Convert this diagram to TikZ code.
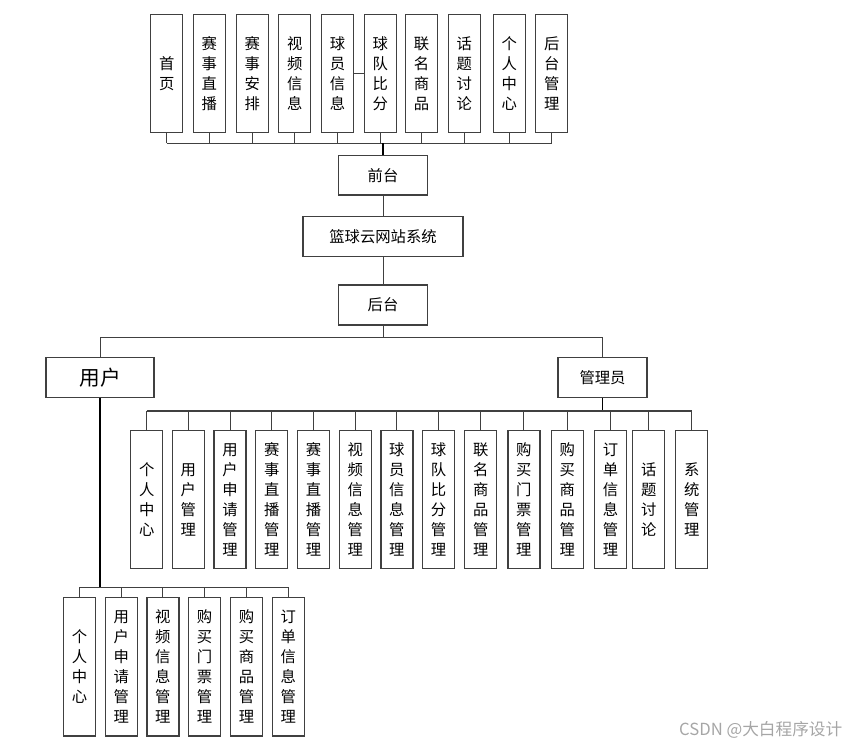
\documentclass[tikz,border=0pt]{standalone}
\usepackage{fontspec}
\setmainfont{Noto Sans CJK SC}
\usepackage{tikz}

\begin{document}
\begin{tikzpicture}[
  x=0.75pt, y=-0.75pt,
  box/.style={draw=black!75,line width=0.9pt,inner sep=0pt,align=center,font=\fontsize{11.5}{15}\selectfont},
  tbox/.style={box,minimum width=24pt,minimum height=89pt},
  abox/.style={box,minimum width=24pt,minimum height=103pt},
  ubox/.style={box,minimum width=24pt,minimum height=104pt},
  link/.style={draw=black!75,line width=0.75pt},
  blink/.style={draw=black,line width=1.4pt}
]
  \useasboundingbox (0,0) rectangle (852,745);
  % front end
  \node[tbox] (t1) at (166.7,73.5) {首\\页};
  \node[tbox] (t2) at (209.3,73.5) {赛\\事\\直\\播};
  \node[tbox] (t3) at (252.2,73.5) {赛\\事\\安\\排};
  \node[tbox] (t4) at (294.8,73.5) {视\\频\\信\\息};
  \node[tbox] (t5) at (337.5,73.5) {球\\员\\信\\息};
  \node[tbox] (t6) at (380.3,73.5) {球\\队\\比\\分};
  \node[tbox] (t7) at (421.5,73.5) {联\\名\\商\\品};
  \node[tbox] (t8) at (464.2,73.5) {话\\题\\讨\\论};
  \node[tbox] (t9) at (509.2,73.5) {个\\人\\中\\心};
  \node[tbox] (t10) at (551.8,73.5) {后\\台\\管\\理};
  \node[box,minimum width=66.5pt,minimum height=29.5pt] (qt) at (383,175.3) {前台};
  \node[box,minimum width=120pt,minimum height=30pt] (sys) at (383,236.7) {篮球云网站系统};
  \node[box,minimum width=66.8pt,minimum height=30pt] (ht) at (383,305) {后台};
  \node[box,minimum width=81pt,minimum height=29.7pt,font=\fontsize{15.5}{18}\selectfont] (user) at (100,377.5) {用户};
  \node[box,minimum width=66.8pt,minimum height=29.7pt] (admin) at (602.5,377.5) {管理员};
  % admin
  \node[abox] (a1) at (146.8,499.5) {个\\人\\中\\心};
  \node[abox] (a2) at (188.3,499.5) {用\\户\\管\\理};
  \node[abox] (a3) at (230,499.5) {用\\户\\申\\请\\管\\理};
  \node[abox] (a4) at (271.8,499.5) {赛\\事\\直\\播\\管\\理};
  \node[abox] (a5) at (313.5,499.5) {赛\\事\\直\\播\\管\\理};
  \node[abox] (a6) at (355.2,499.5) {视\\频\\信\\息\\管\\理};
  \node[abox] (a7) at (396.9,499.5) {球\\员\\信\\息\\管\\理};
  \node[abox] (a8) at (438.6,499.5) {球\\队\\比\\分\\管\\理};
  \node[abox] (a9) at (480.7,499.5) {联\\名\\商\\品\\管\\理};
  \node[abox] (a10) at (523.9,499.5) {购\\买\\门\\票\\管\\理};
  \node[abox] (a11) at (567.2,499.5) {购\\买\\商\\品\\管\\理};
  \node[abox] (a12) at (610.5,499.5) {订\\单\\信\\息\\管\\理};
  \node[abox] (a13) at (648.7,499.5) {话\\题\\讨\\论};
  \node[abox] (a14) at (691.8,499.5) {系\\统\\管\\理};
  % user
  \node[ubox] (u1) at (79.5,666.7) {个\\人\\中\\心};
  \node[ubox] (u2) at (121.2,666.7) {用\\户\\申\\请\\管\\理};
  \node[ubox] (u3) at (162.9,666.7) {视\\频\\信\\息\\管\\理};
  \node[ubox] (u4) at (204.5,666.7) {购\\买\\门\\票\\管\\理};
  \node[ubox] (u5) at (246.5,666.7) {购\\买\\商\\品\\管\\理};
  \node[ubox] (u6) at (288.2,666.7) {订\\单\\信\\息\\管\\理};
  \node[text=black!35,font=\fontsize{12.5}{14}\selectfont,anchor=east] (mark) at (847,730) {CSDN @大白程序设计};
  \coordinate (fbus) at (383,143.3);
  \coordinate (hbus) at (383,337.7);
  \coordinate (abus) at (602.5,411);
  \coordinate (ubus) at (100,587.3);
  % front end links
  \draw[link] (t1.south) -- (t1.south |- fbus);
  \draw[link] (t2.south) -- (t2.south |- fbus);
  \draw[link] (t3.south) -- (t3.south |- fbus);
  \draw[link] (t4.south) -- (t4.south |- fbus);
  \draw[link] (t5.south) -- (t5.south |- fbus);
  \draw[link] (t6.south) -- (t6.south |- fbus);
  \draw[link] (t7.south) -- (t7.south |- fbus);
  \draw[link] (t8.south) -- (t8.south |- fbus);
  \draw[link] (t9.south) -- (t9.south |- fbus);
  \draw[link] (t10.south) -- (t10.south |- fbus);
  \draw[link] (t1.south |- fbus) -- (t10.south |- fbus);
  \draw[link] (t5.east) -- (t6.west);
  \draw[blink] (fbus) -- (qt.north);
  \draw[link] (qt.south) -- (sys.north);
  \draw[link] (sys.south) -- (ht.north);
  \draw[link] (ht.south) -- (hbus);
  \draw[link] (user.north) |- (hbus) -| (admin.north);
  % admin links
  \draw[blink] (admin.south) -- (abus);
  \draw[link,line width=1pt] (a1.north |- abus) -- (a14.north |- abus);
  \draw[link] (a1.north |- abus) -- (a1.north);
  \draw[link] (a2.north |- abus) -- (a2.north);
  \draw[link] (a3.north |- abus) -- (a3.north);
  \draw[link] (a4.north |- abus) -- (a4.north);
  \draw[link] (a5.north |- abus) -- (a5.north);
  \draw[link] (a6.north |- abus) -- (a6.north);
  \draw[link] (a7.north |- abus) -- (a7.north);
  \draw[link] (a8.north |- abus) -- (a8.north);
  \draw[link] (a9.north |- abus) -- (a9.north);
  \draw[link] (a10.north |- abus) -- (a10.north);
  \draw[link] (a11.north |- abus) -- (a11.north);
  \draw[link] (a12.north |- abus) -- (a12.north);
  \draw[link] (a13.north |- abus) -- (a13.north);
  \draw[link] (a14.north |- abus) -- (a14.north);
  % user links
  \draw[blink] (user.south) -- (ubus);
  \draw[link,line width=1pt] (u1.north |- ubus) -- (u6.north |- ubus);
  \draw[link] (u1.north |- ubus) -- (u1.north);
  \draw[link] (u2.north |- ubus) -- (u2.north);
  \draw[link] (u3.north |- ubus) -- (u3.north);
  \draw[link] (u4.north |- ubus) -- (u4.north);
  \draw[link] (u5.north |- ubus) -- (u5.north);
  \draw[link] (u6.north |- ubus) -- (u6.north);
\end{tikzpicture}
\end{document}
